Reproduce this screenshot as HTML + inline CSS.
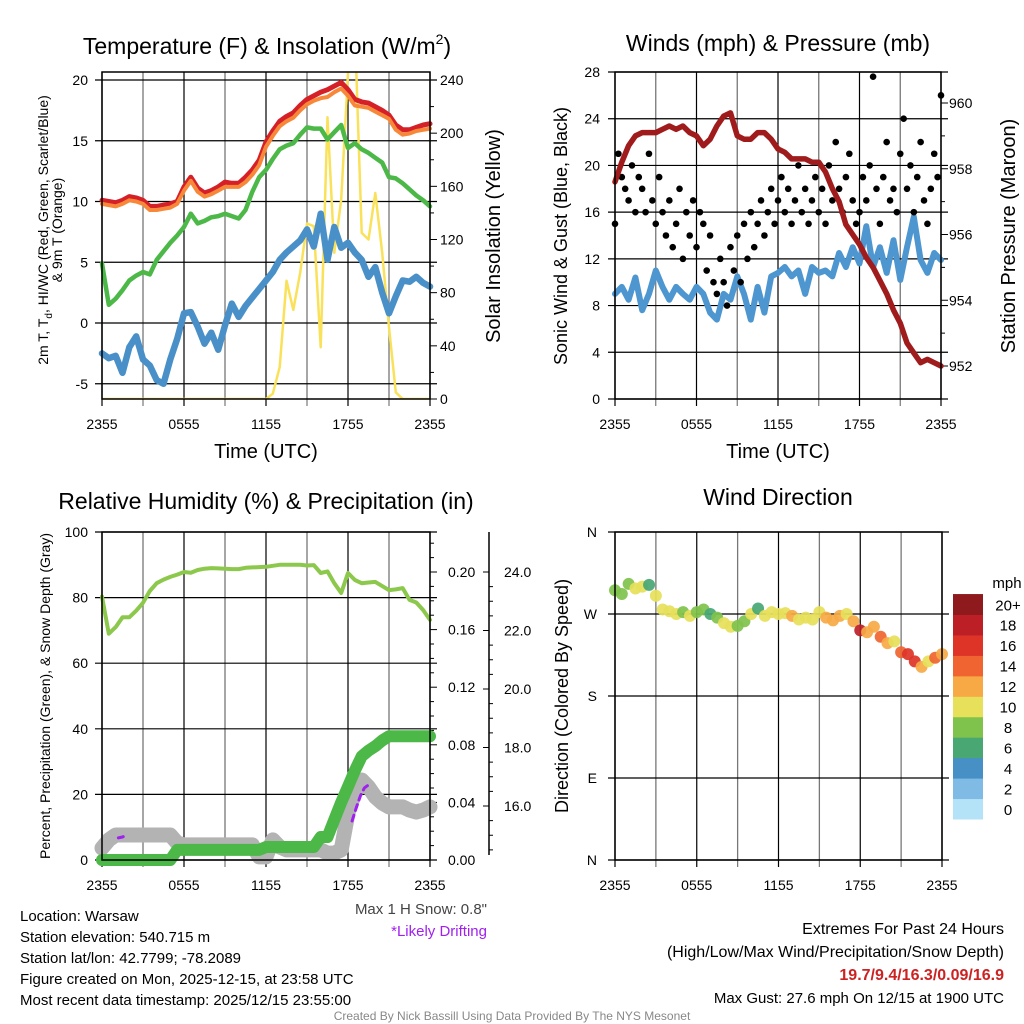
<!DOCTYPE html>
<html><head><meta charset="utf-8"><style>
html,body{margin:0;padding:0;background:#fff;}
svg{display:block;font-family:"Liberation Sans",sans-serif;}
</style></head><body>
<svg id="s" width="1024" height="1024" viewBox="0 0 1024 1024" xmlns="http://www.w3.org/2000/svg">
<defs>
<clipPath id="c1"><rect x="102" y="72" width="328" height="327"/></clipPath>
</defs>
<rect x="0" y="0" width="1024" height="1024" fill="#fff"/>
<text x="267" y="54" font-size="23" text-anchor="middle">Temperature (F) &amp; Insolation (W/m<tspan font-size="14" dy="-10">2</tspan><tspan dy="10">)</tspan></text>
<text x="778" y="51" font-size="23" text-anchor="middle">Winds (mph) &amp; Pressure (mb)</text>
<text x="266" y="509" font-size="23" text-anchor="middle">Relative Humidity (%) &amp; Precipitation (in)</text>
<text x="778" y="505" font-size="23" text-anchor="middle">Wind Direction</text>
<text x="266" y="458" font-size="20" text-anchor="middle">Time (UTC)</text>
<text x="778" y="458" font-size="20" text-anchor="middle">Time (UTC)</text>
<text transform="translate(48,230) rotate(-90)" font-size="14" text-anchor="middle">2m T, T<tspan font-size="10" dy="4">d</tspan><tspan dy="-4">, HI/WC (Red, Green, Scarlet/Blue)</tspan></text>
<text transform="translate(62,230) rotate(-90)" font-size="14" text-anchor="middle">&amp; 9m T (Orange)</text>
<text transform="translate(500,236) rotate(-90)" font-size="20" text-anchor="middle">Solar Insolation (Yellow)</text>
<text transform="translate(567,236) rotate(-90)" font-size="18" text-anchor="middle">Sonic Wind &amp; Gust (Blue, Black)</text>
<text transform="translate(1015,236) rotate(-90)" font-size="20" text-anchor="middle">Station Pressure (Maroon)</text>
<text transform="translate(50,696) rotate(-90)" font-size="14" text-anchor="middle">Percent, Precipitation (Green), &amp; Snow Depth (Gray)</text>
<text transform="translate(568,696) rotate(-90)" font-size="18" text-anchor="middle">Direction (Colored By Speed)</text>
<g font-size="15">
<text x="20" y="921">Location: Warsaw</text>
<text x="20" y="942">Station elevation: 540.715 m</text>
<text x="20" y="963">Station lat/lon: 42.7799; -78.2089</text>
<text x="20" y="984">Figure created on Mon, 2025-12-15, at 23:58 UTC</text>
<text x="20" y="1005">Most recent data timestamp: 2025/12/15 23:55:00</text>
</g>
<text x="487" y="914" font-size="15" fill="#444" text-anchor="end">Max 1 H Snow: 0.8"</text>
<text x="487" y="936" font-size="15" fill="#a020f0" text-anchor="end">*Likely Drifting</text>
<text x="1004" y="934" font-size="16" text-anchor="end">Extremes For Past 24 Hours</text>
<text x="1004" y="957" font-size="16" text-anchor="end">(High/Low/Max Wind/Precipitation/Snow Depth)</text>
<text x="1004" y="980" font-size="16" font-weight="bold" fill="#cc2222" text-anchor="end">19.7/9.4/16.3/0.09/16.9</text>
<text x="1004" y="1003" font-size="15" text-anchor="end">Max Gust: 27.6 mph On 12/15 at 1900 UTC</text>
<text x="512" y="1020" font-size="12" fill="#888" text-anchor="middle">Created By Nick Bassill Using Data Provided By The NYS Mesonet</text>
</svg>
<script>
// ---------- data ----------
const hours = [0,0.5,1,1.5,2,2.5,3,3.5,4,4.5,5,5.5,6,6.5,7,7.5,8,8.5,9,9.5,10,10.5,11,11.5,12,12.5,13,13.5,14,14.5,15,15.5,16,16.5,17,17.5,18,18.5,19,19.5,20,20.5,21,21.5,22,22.5,23,23.5,24];
const xTickLabels = ["2355","0555","1155","1755","2355"];
const temp2m = [10.1,10.0,9.9,10.1,10.4,10.3,10.1,9.6,9.6,9.7,9.8,10.0,11.2,12.0,11.1,10.7,10.9,11.2,11.6,11.5,11.5,12.0,12.6,13.4,14.9,15.8,16.6,17.0,17.3,17.9,18.4,18.7,19.0,19.2,19.5,19.8,19.2,18.4,18.2,18.1,17.8,17.5,17.1,16.3,15.9,15.9,16.1,16.3,16.4];
const temp9m = [9.8,9.7,9.6,9.8,10.1,10.0,9.8,9.3,9.3,9.4,9.5,9.8,10.9,11.7,10.8,10.4,10.6,10.9,11.2,11.2,11.2,11.6,12.2,13.0,14.5,15.4,16.2,16.6,16.9,17.5,18.0,18.3,18.5,18.6,19.0,19.3,18.7,17.9,17.8,17.7,17.4,17.1,16.8,15.9,15.5,15.6,15.8,15.9,16.0];
const wchill = [4.9,1.5,2.0,2.7,3.5,3.9,4.2,4.0,5.2,5.9,6.6,7.2,7.9,9.0,8.2,8.4,8.7,8.8,9.0,8.8,8.6,9.3,10.8,12.0,12.6,13.5,14.3,14.6,14.8,15.5,16.1,16.0,16.0,15.1,15.7,16.3,14.4,14.8,14.3,14.0,13.6,13.2,12.0,11.9,11.5,11.0,10.5,10.1,9.6];
const dewpt = [-2.5,-2.9,-2.7,-4.1,-2.0,-1.1,-3.0,-3.5,-4.7,-5.0,-3.0,-1.3,0.8,0.9,-0.3,-1.7,-0.8,-2.2,-0.2,1.6,0.5,1.4,2.1,2.8,3.5,4.2,5.2,5.8,6.3,6.8,7.7,6.3,9.0,5.2,7.9,6.2,6.6,5.8,5.2,3.8,4.6,2.5,0.8,2.2,3.5,3.4,3.8,3.3,3.0];
const solar = [0,0,0,0,0,0,0,0,0,0,0,0,0,0,0,0,0,0,0,0,0,0,0,0,0,4,24,89,67,95,132,130,39,212,110,150,245,280,125,120,155,110,54,5,0,0,0,0,0];
const windSpd = [9.0,9.6,8.5,10.4,7.6,9.0,11.0,9.6,8.5,9.6,9.0,8.5,9.6,9.0,7.4,6.8,9.0,8.5,10.5,9.0,6.8,9.6,7.4,10.5,10.8,11.3,10.5,11.0,9.0,11.3,10.8,11.0,10.5,12.5,11.3,13.0,11.6,14.8,11.3,13.0,10.8,13.6,10.2,13.0,15.6,11.9,10.8,12.5,11.9];
const pressure = [957.6,958.2,958.7,959.0,959.1,959.1,959.1,959.2,959.3,959.2,959.3,959.1,959.0,958.7,958.9,959.3,959.6,959.7,959.0,958.9,958.9,959.1,959.1,958.9,958.6,958.5,958.3,958.3,958.3,958.2,958.2,957.9,957.4,957.0,956.3,956.0,955.7,955.3,955.0,954.6,954.2,953.7,953.3,952.7,952.4,952.1,952.2,952.1,952.0];
const gustHours = [0,0.25,0.5,0.75,1,1.25,1.5,1.75,2,2.25,2.5,2.75,3,3.25,3.5,3.75,4,4.25,4.5,4.75,5,5.25,5.5,5.75,6,6.25,6.5,6.75,7,7.25,7.5,7.75,8,8.25,8.5,8.75,9,9.25,9.5,9.75,10,10.25,10.5,10.75,11,11.25,11.5,11.75,12,12.25,12.5,12.75,13,13.25,13.5,13.75,14,14.25,14.5,14.75,15,15.25,15.5,15.75,16,16.25,16.5,16.75,17,17.25,17.5,17.75,18,18.25,18.5,18.75,19,19.25,19.5,19.75,20,20.25,20.5,20.75,21,21.25,21.5,21.75,22,22.25,22.5,22.75,23,23.25,23.5,23.75,24];
const gustVals = [15,21,19,18,17,20,16,19,18,16,21,17,15,19,16,14,17,13,15,18,12,16,14,17,13,16,15,11,14,10,9,12,10,8,13,11,14,10,15,12,16,13,15,17,14,16,18,15,17,19,16,18,15,17,20,16,18,15,17,19,16,18,15,20,17,22,18,16,19,21,17,15,16,19,17,20,27.6,18,15,19,22,17,18,16,21,24,18,20,16,19,22,17,15,18,21,19,26];
const rh = [80.3,69,71,74,74,76,78.4,82,84.4,85.5,86.3,87,87.8,87.6,88.4,88.8,89,88.9,88.8,88.7,88.7,89.1,89.2,89.3,89.4,89.7,90,90,90,90,89.8,89.9,87.5,88,84.4,81.4,87.5,85.4,84.4,84.6,84.8,83.5,82.3,82.5,82.9,79.3,78.5,76.2,73.2];
const precip = [0,0,0,0,0,0,0,0,0,0,0,0.007,0.007,0.007,0.007,0.007,0.007,0.007,0.007,0.007,0.007,0.007,0.007,0.007,0.009,0.009,0.009,0.009,0.009,0.009,0.009,0.009,0.016,0.016,0.028,0.040,0.051,0.062,0.072,0.076,0.079,0.083,0.086,0.086,0.086,0.086,0.086,0.086,0.086];
const snowDepth = [14.56,14.84,15.01,15.01,15.01,15.01,15.01,15.01,15.01,15.01,15.01,14.74,14.67,14.67,14.67,14.67,14.67,14.67,14.67,14.67,14.67,14.67,14.67,14.26,14.26,14.84,14.60,14.50,14.50,14.50,14.50,14.50,14.50,14.39,14.39,14.50,15.76,16.44,16.89,16.65,16.31,16.10,15.97,15.97,15.97,15.86,15.79,15.86,15.97];
const driftHours = [1.2,1.5,1.8,18.3,18.6,18.9,19.2,19.5];
const driftVals = [14.91,14.94,15.01,15.49,15.93,16.34,16.62,16.72];
const windDir = [296,292,303,298,300,302,290,275,273,270,272,268,272,275,270,266,260,256,257,262,270,276,268,272,270,271,268,264,266,264,272,266,263,268,270,262,252,250,256,245,238,240,228,226,218,212,218,222,226];
const dirSpd = [9,8,8,10,10,7,10,10,10,11,9,10,9,8,7,8,10,10,9,8,10,7,10,11,10,11,12,10,10,11,10,12,13,12,11,13,19,12,13,15,12,11,14,17,16,12,10,14,13];
const cbLabels = ["0","2","4","6","8","10","12","14","16","18","20+"];
const cbColors = ["#b4e3f8","#7fbbe5","#4690c6","#48a773","#7fc24c","#e6e05a","#f6a945","#ef6430","#dd3427","#bd1f26","#8f1a1d"];

// ---------- helpers ----------
const NS="http://www.w3.org/2000/svg";
const svg=document.getElementById('s');
function mk(tag,attrs,parent){const e=document.createElementNS(NS,tag);for(const k in attrs)e.setAttribute(k,attrs[k]);(parent||svg).appendChild(e);return e;}
function lin(d0,d1,r0,r1){return v=>r0+(v-d0)*(r1-r0)/(d1-d0);}
function pathD(xs,ys,fx,fy){return xs.map((h,i)=>(i?'L':'M')+fx(h).toFixed(1)+','+fy(ys[i]).toFixed(1)).join('');}

function frame(x0,x1,y0,y1,hLines,name){
  const g=mk('g',{});
  
  
  const fx=lin(0,24,x0,x1);
  for(let k=0;k<=8;k++){
    const x=fx(k*3);
    const l=mk('line',{x1:x,x2:x,y1:y0,y2:y1,stroke:k%2?'#777':'#000','stroke-width':k%2?1.3:1.2},g);
    
    
    const t=mk('line',{x1:x,x2:x,y1:y1,y2:y1+7,stroke:k%2?'#777':'#000','stroke-width':1.2},g);
    
    
  }
  hLines.forEach(y=>{
    const l=mk('line',{x1:x0-7,x2:x1+7,y1:y,y2:y,stroke:'#000','stroke-width':1.2},g);
    
    
  });
  xTickLabels.forEach((s,k)=>{
    const t=mk('text',{x:fx(k*6),y:y1+30,'font-size':14,'text-anchor':'middle'},g);
    t.textContent=s;
    
    
  });
  return fx;
}
function border(x0,x1,y0,y1){
  const b=mk('rect',{x:x0,y:y0,width:x1-x0,height:y1-y0,fill:'none',stroke:'#000','stroke-width':1.5});
  
  
}
function yTicks(vals,labels,fy,x,anchor,name){
  vals.forEach((v,i)=>{
    const t=mk('text',{x:x,y:fy(v)+5,'font-size':14,'text-anchor':anchor});
    t.textContent=labels[i];
    
    
  });
}
function line(d,color,w,name,extra){
  const p=mk('path',Object.assign({d:d,fill:'none',stroke:color,'stroke-width':w,'stroke-linejoin':'round','stroke-linecap':'round'},extra||{}));
  
  
  return p;
}

// ---------- panel 1 ----------
{
  const X0=102,X1=430,Y0=72,Y1=399;
  const fy=lin(0,20,323,80), fs=lin(0,240,399,80);
  const fx=frame(X0,X1,Y0,Y1,[20,15,10,5,0,-5].map(fy),'temperature');
  for(let v=0;v<=240;v+=20){const t=mk('line',{x1:X1,x2:X1+(v%40?4:7),y1:fs(v),y2:fs(v),stroke:'#000'});}
  yTicks([20,15,10,5,0,-5],["20","15","10","5","0","-5"],fy,88,'end','temp-tick-label');
  yTicks([240,200,160,120,80,40,0],["240","200","160","120","80","40","0"],fs,440,'start','solar-tick-label');
  line(pathD(hours,solar,fx,fs),'#f9e25a',2.5,'solar-line',{'clip-path':'url(#c1)'});
  line(pathD(hours,dewpt,fx,fy),'#4a90c8',6.5,'dewpoint-line');
  line(pathD(hours,wchill,fx,fy),'#4cb848',4.5,'windchill-line');
  line(pathD(hours,temp2m,fx,fy),'#d62028',5,'temp-2m-line');
  line(pathD(hours,temp9m,fx,fy),'#f7883a',4,'temp-9m-line');
  border(X0,X1,Y0,Y1);
}
// ---------- panel 2 ----------
{
  const X0=615,X1=941,Y0=72,Y1=399;
  const fy=lin(0,28,399,72), fp=lin(952,960,366,103);
  const fx=frame(X0,X1,Y0,Y1,[0,4,8,12,16,20,24,28].map(fy),'winds');
  for(let v=952;v<=960;v+=1){const t=mk('line',{x1:X1,x2:X1+(v%2?4:7),y1:fp(v),y2:fp(v),stroke:'#000'});}
  yTicks([28,24,20,16,12,8,4,0],["28","24","20","16","12","8","4","0"],fy,600,'end','wind-tick-label');
  yTicks([960,958,956,954,952],["960","958","956","954","952"],fp,949,'start','pressure-tick-label');
  line(pathD(hours,windSpd,fx,fy),'#4e96d0',6,'wind-speed-line');
  gustVals.forEach((v,i)=>{
    const c=mk('circle',{cx:fx(gustHours[i]),cy:fy(v),r:3.3,fill:'#000'});
    
    
  });
  line(pathD(hours,pressure,fx,fp),'#a01c1c',5.5,'pressure-line');
  border(X0,X1,Y0,Y1);
}
// ---------- panel 3 ----------
{
  const X0=102,X1=430,Y0=532,Y1=860;
  const fy=lin(0,100,860,532), fpr=lin(0,0.2,860,572), fsd=lin(16,24,806,572);
  const fx=frame(X0,X1,Y0,Y1,[0,20,40,60,80,100].map(fy),'humidity');
  for(let k=0;k<=22;k++){const v=k*0.01;const t=mk('line',{x1:X1,x2:X1+(k%4?4:7),y1:fpr(v),y2:fpr(v),stroke:'#000'});}
  yTicks([100,80,60,40,20,0],["100","80","60","40","20","0"],fy,88,'end','humidity-tick-label');
  yTicks([0.2,0.16,0.12,0.08,0.04,0],["0.20","0.16","0.12","0.08","0.04","0.00"],fpr,448,'start','precip-tick-label');
  const ax=mk('line',{x1:489,x2:489,y1:532,y2:855,stroke:'#000','stroke-width':1.5});
  
  
  for(let k=0;k<=19;k++){
    const v=14.5+k*0.5;
    const maj=(v%2===0);
    const t=mk('line',{x1:maj?483:489,x2:maj?489:493,y1:fsd(v),y2:fsd(v),stroke:'#000'});
    
    
  }
  yTicks([24,22,20,18,16],["24.0","22.0","20.0","18.0","16.0"],fsd,504,'start','snow-depth-tick-label');
  line(pathD(hours,snowDepth,fx,fsd),'#b3b3b3',15,'snow-depth-line');
  line(pathD(driftHours.slice(0,3),driftVals.slice(0,3),fx,fsd),'#a020f0',3,'drift-marker-early',{'stroke-dasharray':'5,4'});
  line(pathD(driftHours.slice(3),driftVals.slice(3),fx,fsd),'#a020f0',3,'drift-marker-late',{'stroke-dasharray':'6,5'});
  line(pathD(hours,precip,fx,fpr),'#4cb848',12,'precip-line');
  line(pathD(hours,rh,fx,fy),'#8cc84b',4,'humidity-line');
  border(X0,X1,Y0,Y1);
}
// ---------- panel 4 ----------
{
  const X0=615,X1=942,Y0=532,Y1=860;
  const fy=lin(0,360,860,532);
  const fx=frame(X0,X1,Y0,Y1,[0,90,180,270,360].map(fy),'direction');
  yTicks([360,270,180,90,0],["N","W","S","E","N"],fy,597,'end','direction-tick-label');
  function col(s){let i=Math.floor(s/2);if(i>10)i=10;if(i<0)i=0;return cbColors[i];}
  windDir.forEach((d,i)=>{
    const c=mk('circle',{cx:fx(hours[i]),cy:fy(d),r:6,fill:col(dirSpd[i]),'fill-opacity':0.92});
    
    
  });
  border(X0,X1,Y0,Y1);
  const cb=mk('g',{});
  
  
  const bh=20.45, by=819;
  cbLabels.forEach((s,i)=>{
    const r=mk('rect',{x:953,y:by-(i+1)*bh,width:30,height:bh+0.5,fill:cbColors[i]},cb);
    
    
    const t=mk('text',{x:1008,y:by-(i+0.5)*bh+6,'font-size':15,'text-anchor':'middle'},cb);
    t.textContent=s;
    
    
  });
  const u=mk('text',{x:1007,y:588,'font-size':15,'text-anchor':'middle'},cb);
  u.textContent='mph';
  
  
}
</script>
</body></html>
